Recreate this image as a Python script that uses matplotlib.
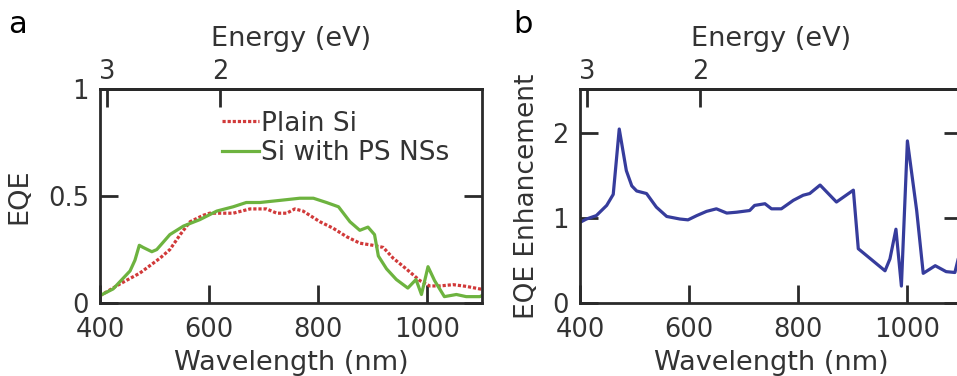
import numpy as np
import matplotlib
matplotlib.use('Agg')
import matplotlib.pyplot as plt

# Panel a: EQE of plain Si and Si with PS NSs
wl_plain = [400, 437, 473, 510, 528, 547, 565, 589, 601, 644, 675, 705, 724,
            742, 757, 772, 803, 827, 852, 876, 900, 919, 937, 961, 986, 1004,
            1023, 1047, 1071, 1096, 1100]
eqe_plain = [0.034, 0.09, 0.14, 0.21, 0.25, 0.32, 0.38, 0.41, 0.42, 0.42, 0.44,
             0.44, 0.42, 0.42, 0.44, 0.43, 0.38, 0.35, 0.31, 0.28, 0.27, 0.26,
             0.21, 0.16, 0.105, 0.08, 0.08, 0.086, 0.078, 0.066, 0.065]

wl_ps = [400, 424, 455, 464, 472, 479, 495, 504, 528, 553, 583, 614, 644, 668,
         693, 730, 766, 791, 815, 837, 858, 876, 891, 903, 910, 925, 943, 964,
         979, 989, 1001, 1013, 1031, 1053, 1071, 1096, 1100]
eqe_ps = [0.035, 0.066, 0.15, 0.2, 0.27, 0.26, 0.24, 0.25, 0.32, 0.36, 0.39,
          0.43, 0.45, 0.47, 0.47, 0.48, 0.49, 0.49, 0.47, 0.45, 0.38, 0.34,
          0.355, 0.32, 0.22, 0.16, 0.11, 0.07, 0.11, 0.04, 0.17, 0.105, 0.03,
          0.04, 0.03, 0.03, 0.035]

# Panel b: EQE enhancement
wl_enh = [400, 412, 430, 449, 461, 472, 485, 495, 504, 522, 540, 559, 583, 598,
          614, 632, 650, 669, 687, 711, 720, 739, 751, 769, 791, 809, 821, 840,
          870, 901, 910, 959, 968, 979, 989, 1000, 1017, 1029, 1051, 1071,
          1087, 1100]
enh = [0.95, 0.99, 1.03, 1.15, 1.28, 2.05, 1.56, 1.38, 1.32, 1.29, 1.13, 1.02,
       0.99, 0.98, 1.03, 1.08, 1.11, 1.06, 1.07, 1.09, 1.15, 1.17, 1.11, 1.11,
       1.21, 1.27, 1.29, 1.39, 1.19, 1.33, 0.64, 0.38, 0.52, 0.87, 0.2, 1.91,
       1.09, 0.35, 0.44, 0.37, 0.36, 0.7]

energy_ticks = [3, 2]

txt = '#333333'
plt.rcParams['font.family'] = 'DejaVu Sans'
plt.rcParams['text.color'] = txt
plt.rcParams['axes.labelcolor'] = txt
plt.rcParams['xtick.color'] = txt
plt.rcParams['ytick.color'] = txt

fig = plt.figure(figsize=(9.57, 3.76), dpi=100)
ax1 = fig.add_axes([0.1045, 0.194, 0.3992, 0.569])
ax2 = fig.add_axes([0.606, 0.194, 0.3992, 0.569])


def ev(x):
    x = np.asarray(x, dtype=float)
    return 1239.84 / np.where(x == 0, 1e-9, x)


def style(ax):
    for sp in ax.spines.values():
        sp.set_linewidth(2.0)
        sp.set_color('#2a2a2a')
    ax.set_xlim(400, 1100)
    ax.set_xticks([400, 600, 800, 1000])
    ax.tick_params(direction='in', length=13, width=2.0, top=False,
                   right=True, labelsize=18.5, color='#2a2a2a')
    ax.tick_params(axis='x', pad=10)
    ax.tick_params(axis='y', pad=8)
    ax.set_xlabel('Wavelength (nm)', fontsize=19.5, labelpad=5)
    sec = ax.secondary_xaxis('top', functions=(ev, ev))
    sec.set_xticks(energy_ticks)
    sec.set_xticklabels([str(t) for t in energy_ticks])
    sec.tick_params(direction='in', length=13, width=2.0, labelsize=18.5,
                    pad=3, color='#2a2a2a')
    sec.spines['top'].set_linewidth(2.0)
    sec.set_xlabel('Energy (eV)', fontsize=19.5, labelpad=9)


ax1.plot(wl_plain, eqe_plain, color='#d13a3a', lw=2.3,
         linestyle=(0, (1.0, 0.6)), label='Plain Si')
ax1.plot(wl_ps, eqe_ps, color='#6db33f', lw=2.3, label='Si with PS NSs')
style(ax1)
ax1.set_ylim(0, 1)
ax1.set_yticks([0, 0.5, 1])
ax1.set_yticklabels(['0', '0.5', '1'])
ax1.set_ylabel('EQE', fontsize=19.5, labelpad=11)
ax1.legend(loc='upper left', bbox_to_anchor=(0.32, 0.9), frameon=False,
           fontsize=19, handlelength=1.4, handletextpad=0.05, borderpad=0,
           borderaxespad=0, labelspacing=0.15)

ax2.plot(wl_enh, enh, color='#363c9c', lw=2.3)
style(ax2)
ax2.set_ylim(0, 2.52)
ax2.set_yticks([0, 1, 2])
ax2.set_ylabel('EQE Enhancement', fontsize=19, labelpad=9)

fig.text(0.008, 0.935, 'a', fontsize=22, color='black', va='center')
fig.text(0.536, 0.935, 'b', fontsize=22, color='black', va='center')

fig.savefig('out.png', dpi=100)
